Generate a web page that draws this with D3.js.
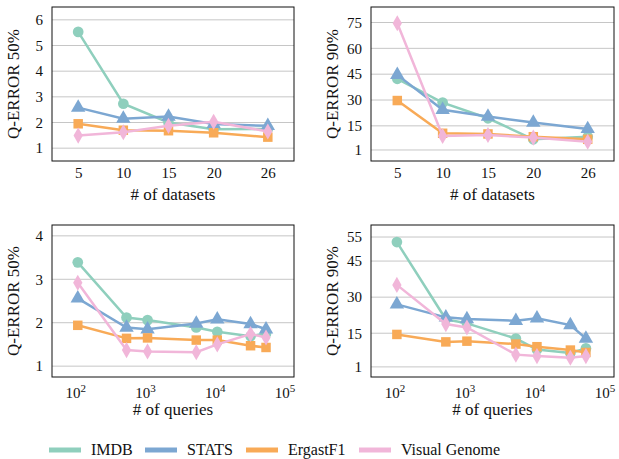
<!DOCTYPE html>
<html>
<head>
<meta charset="utf-8">
<script src="https://cdn.jsdelivr.net/npm/d3@7"></script>
<style>
  body { margin: 0; background: #fff; }
  svg text { font-family: "Liberation Serif", "DejaVu Serif", serif; }
</style>
</head>
<body>
<svg id="chart" width="619" height="459"></svg>
<script>
const seriesNames = ['IMDB', 'STATS', 'ErgastF1', 'Visual Genome'];
const colors = ['#8fcfbd', '#7ca7d2', '#f8aa57', '#f1b6d9'];
const symbols = [d3.symbolCircle, d3.symbolTriangle, d3.symbolSquare, d3.symbolDiamond];

const datasets = [5, 10, 15, 20, 26];
const queries = [100, 500, 1000, 5000, 10000, 30000, 50000];

// Q-error 50% vs number of datasets
const ds50 = [
  [5.53, 2.73, 2.0, 1.74, 1.75],
  [2.58, 2.15, 2.23, 1.94, 1.87],
  [1.95, 1.7, 1.68, 1.6, 1.43],
  [1.49, 1.62, 1.87, 2.03, 1.65]
];
// Q-error 90% vs number of datasets
const ds90 = [
  [42.3, 28.5, 19.4, 7.2, 8.7],
  [44.6, 24.3, 20.4, 16.9, 13.2],
  [29.7, 10.7, 10.3, 8.7, 7.2],
  [74.6, 9.1, 9.7, 8.2, 5.8]
];
// Q-error 50% vs number of queries
const q50 = [
  [3.39, 2.12, 2.06, 1.89, 1.79, 1.69, 1.75],
  [2.56, 1.89, 1.85, 1.98, 2.08, 1.97, 1.85],
  [1.94, 1.64, 1.65, 1.6, 1.6, 1.47, 1.43],
  [2.92, 1.37, 1.34, 1.32, 1.5, 1.74, 1.66]
];
// Q-error 90% vs number of queries
const q90 = [
  [52.9, 20.8, 19.1, 12.8, 8.2, 6.8, 8.7],
  [27.0, 21.6, 20.9, 20.2, 21.2, 18.4, 12.8],
  [14.5, 11.4, 11.7, 10.5, 9.4, 8.0, 7.0],
  [35.1, 18.8, 17.4, 6.1, 5.5, 4.8, 5.5]
];

const yTicks50ds = [1, 2, 3, 4, 5, 6];
const yTicks90ds = [1, 15, 30, 45, 60, 75];
const yTicks50q = [1, 2, 3, 4];
const yTicks90q = [1, 15, 30, 45, 55];
const xTicksQ = [100, 1000, 10000, 100000];

const FONT = '"Liberation Serif", "DejaVu Serif", serif';
const svg = d3.select('#chart');

const panels = [
  { box: [52, 294, 7, 161], xs: datasets, ys: ds50, yDomain: [0.5, 6.5], yTicks: yTicks50ds, ylabel: 'Q-ERROR 50%', log: false },
  { box: [371, 614, 7, 161], xs: datasets, ys: ds90, yDomain: [-5.4, 84], yTicks: yTicks90ds, ylabel: 'Q-ERROR 90%', log: false },
  { box: [52, 294, 225, 377], xs: queries, ys: q50, yDomain: [0.75, 4.25], yTicks: yTicks50q, ylabel: 'Q-ERROR 50%', log: true },
  { box: [371, 614, 225, 377], xs: queries, ys: q90, yDomain: [-3.2, 60], yTicks: yTicks90q, ylabel: 'Q-ERROR 90%', log: true }
];

panels.forEach(p => {
  const [x0, x1, y0, y1] = p.box;
  const x = p.log
    ? d3.scaleLog().domain([42.7, 125900]).range([x0, x1])
    : d3.scaleLinear().domain([2.1, 28.9]).range([x0, x1]);
  const y = d3.scaleLinear().domain(p.yDomain).range([y1, y0]);
  const g = svg.append('g');

  // grid
  g.selectAll('.grid').data(p.yTicks).join('line')
    .attr('x1', x0).attr('x2', x1)
    .attr('y1', d => y(d)).attr('y2', d => y(d))
    .attr('stroke', '#c6c6c6').attr('stroke-width', 1);

  // y axis labels
  const yAxis = g.append('g').attr('transform', `translate(${x0},0)`)
    .call(d3.axisLeft(y).tickValues(p.yTicks).tickFormat(d3.format('d')).tickSize(0).tickPadding(9));
  yAxis.attr('font-family', FONT).attr('font-size', 15);
  yAxis.select('.domain').remove();
  yAxis.selectAll('text').attr('fill', '#111');

  // x axis labels
  if (p.log) {
    const t = g.selectAll('.xt').data(xTicksQ).join('text')
      .attr('x', d => x(d) - 2).attr('y', y1 + 21)
      .attr('text-anchor', 'middle').attr('font-size', 15).attr('fill', '#111');
    t.append('tspan').text('10');
    t.append('tspan').attr('dy', -6).attr('font-size', 11).text(d => Math.round(Math.log10(d)));
  } else {
    const xAxis = g.append('g').attr('transform', `translate(0,${y1})`)
      .call(d3.axisBottom(x).tickValues(datasets).tickSize(0).tickPadding(6));
    xAxis.attr('font-family', FONT).attr('font-size', 15);
    xAxis.select('.domain').remove();
    xAxis.selectAll('text').attr('fill', '#111');
  }

  // axis titles
  g.append('text')
    .attr('x', (x0 + x1) / 2).attr('y', y1 + (p.log ? 38 : 39))
    .attr('text-anchor', 'middle').attr('font-size', 17).attr('fill', '#111')
    .text(p.log ? '# of queries' : '# of datasets');
  g.append('text')
    .attr('transform', `translate(${x0 - 33},${(y0 + y1) / 2}) rotate(-90)`)
    .attr('text-anchor', 'middle').attr('font-size', 17).attr('fill', '#111')
    .text(p.ylabel);

  // series
  const line = d3.line().x((d, i) => x(p.xs[i])).y(d => y(d));
  p.ys.forEach((vals, s) => {
    g.append('path').datum(vals)
      .attr('d', line).attr('fill', 'none')
      .attr('stroke', colors[s]).attr('stroke-width', 2.5);
    g.selectAll('.m' + s).data(vals).join('path')
      .attr('transform', (d, i) => `translate(${x(p.xs[i])},${y(d)})`)
      .attr('d', d3.symbol().type(symbols[s]).size(s === 3 ? 75 : 90))
      .attr('fill', colors[s]);
  });

  // frame
  g.append('rect')
    .attr('x', x0).attr('y', y0)
    .attr('width', x1 - x0).attr('height', y1 - y0)
    .attr('fill', 'none').attr('stroke', '#111').attr('stroke-width', 1);
});

// legend
const legendX = [49, 145, 246, 359];
const legend = svg.append('g').attr('transform', 'translate(0,450)');
seriesNames.forEach((name, i) => {
  legend.append('line')
    .attr('x1', legendX[i]).attr('x2', legendX[i] + 32)
    .attr('y1', 0).attr('y2', 0)
    .attr('stroke', colors[i]).attr('stroke-width', 5);
  legend.append('text')
    .attr('x', legendX[i] + 42).attr('y', 5)
    .attr('font-size', 16).attr('fill', '#111')
    .text(name);
});
</script>
</body>
</html>
